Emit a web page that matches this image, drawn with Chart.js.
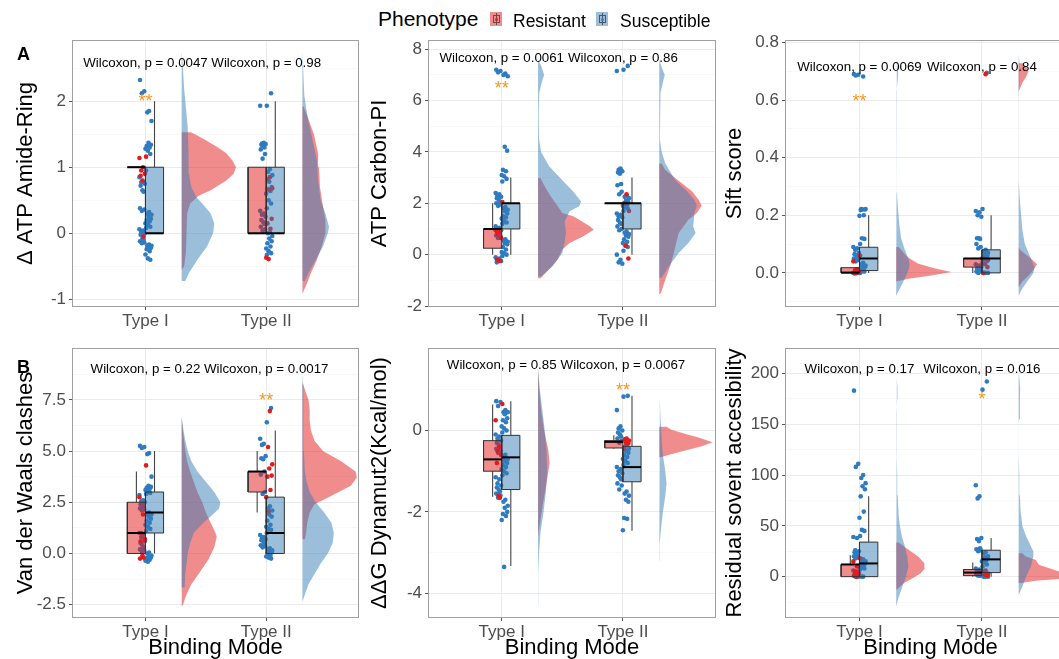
<!DOCTYPE html>
<html>
<head>
<meta charset="utf-8">
<script src="https://cdn.jsdelivr.net/npm/chart.js@4.4.1/dist/chart.umd.min.js"></script>
<style>
  body { margin: 0; width: 1059px; height: 659px; overflow: hidden; background: #fff; position: relative;
         font-family: "Liberation Sans", Arial, sans-serif; }
  canvas { position: absolute; }
  .lg { position: absolute; line-height: 20px; color: #000; white-space: nowrap; }
  .tag { position: absolute; font-weight: bold; font-size: 18px; line-height: 20px; left: 17px; }
  .key { position: absolute; top: 12px; width: 12px; height: 14px; }
  .key::before { content: ''; position: absolute; left: 5.5px; top: 1px; width: 1px; height: 12px; background: #555; }
  .key i { position: absolute; left: 2.5px; top: 3px; width: 5px; height: 6px; border: 1px solid #555; }
  .key b { position: absolute; left: 4.5px; top: 5.5px; width: 3px; height: 3px; border-radius: 50%; }
</style>
</head>
<body>
<canvas id="p1" width="362" height="300" style="left:0px;top:30px"></canvas>
<canvas id="p2" width="357" height="300" style="left:362px;top:30px"></canvas>
<canvas id="p3" width="360" height="300" style="left:719px;top:30px"></canvas>
<canvas id="p4" width="362" height="326" style="left:0px;top:335px"></canvas>
<canvas id="p5" width="357" height="326" style="left:362px;top:335px"></canvas>
<canvas id="p6" width="360" height="326" style="left:719px;top:335px"></canvas>

<div class="lg" style="left:378px;top:9px;font-size:21px">Phenotype</div>
<div class="key" style="left:490px;background:rgba(228,26,28,0.5)"><i></i><b style="background:#E41A1C"></b></div>
<div class="lg" style="left:513px;top:11px;font-size:17.5px">Resistant</div>
<div class="key" style="left:596px;background:rgba(55,126,184,0.5)"><i></i><b style="background:#377EB8"></b></div>
<div class="lg" style="left:620px;top:11px;font-size:17.5px">Susceptible</div>
<div class="tag" style="top:44px">A</div>
<div class="tag" style="top:357px">B</div>

<script>
const categories = ['Type I', 'Type II'];

// ---- Δ ATP Amide-Ring
const amideTicks = [-1, 0, 1, 2];
const amideTickLabels = ['-1', '0', '1', '2'];
const amideRange = [-1.1, 2.91];
const amidePtsR = [[1.16, 1.14, 1.0, 0.95, 0.9, 0.87, 0.8, -0.05], [0.85, 0.82, 0.68, 0.66, 0.22, 0.15, 0.07, -0.37, -0.39]];
const amidePtsS = [
  [2.32, 2.15, 2.12, 1.85, 1.83, 1.7, 1.37, 1.34, 1.32, 1.3, 1.28, 1.25, 1.2, 0.95, 0.85, 0.78, 0.77, 0.75, 0.72, 0.65, 0.63, 0.38, 0.36, 0.34, 0.32, 0.3, 0.28, 0.26, 0.22, 0.2, 0.18, 0.15, 0.13, 0.1, 0.08, 0.06, 0.04, 0.02, 0.0, -0.02, -0.08, -0.1, -0.12, -0.14, -0.15, -0.17, -0.18, -0.19, -0.2, -0.22, -0.24, -0.27, -0.32, -0.38, -0.4],
  [2.12, 1.93, 1.93, 1.37, 1.36, 1.35, 1.34, 1.32, 1.3, 1.27, 1.2, 1.13, 0.97, 0.93, 0.88, 0.78, 0.7, 0.67, 0.64, 0.6, 0.5, 0.45, 0.38, 0.34, 0.3, 0.28, 0.25, 0.2, 0.17, 0.14, 0.1, 0.06, 0.04, 0.02, 0.0, -0.04, -0.08, -0.12, -0.15, -0.2, -0.23, -0.27, -0.3, -0.33]
];
const amideBoxR = [[1, 1, 1, 1, 1], [0, 0, 0, 1, 1]];
const amideBoxS = [[0, 0, 0, 1, 2], [0, 0, 0, 1, 2]];
const amideVioR = [
  [[-0.55, 0], [-0.5, 0.02], [-0.3, 0.035], [0, 0.04], [0.3, 0.045], [0.45, 0.07], [0.57, 0.14], [0.65, 0.24], [0.8, 0.37], [0.9, 0.43], [1.0, 0.45], [1.1, 0.42], [1.21, 0.37], [1.3, 0.3], [1.41, 0.2], [1.5, 0.11], [1.53, 0.075]],
  [[-0.92, 0], [-0.85, 0.015], [-0.75, 0.04], [-0.6, 0.07], [-0.4, 0.12], [-0.2, 0.16], [0, 0.19], [0.2, 0.19], [0.4, 0.17], [0.7, 0.145], [1.0, 0.137], [1.2, 0.13], [1.5, 0.095], [1.7, 0.055], [1.92, 0.01]]
];
const amideVioS = [
  [[-0.72, 0.03], [-0.6, 0.06], [-0.4, 0.13], [-0.2, 0.21], [0, 0.26], [0.15, 0.27], [0.3, 0.24], [0.45, 0.17], [0.55, 0.12], [0.7, 0.08], [0.9, 0.06], [1.2, 0.057], [1.6, 0.05], [1.9, 0.035], [2.2, 0.02], [2.5, 0.01], [2.75, 0]],
  [[-0.72, 0.02], [-0.6, 0.05], [-0.4, 0.11], [-0.2, 0.17], [0, 0.21], [0.1, 0.22], [0.3, 0.19], [0.5, 0.15], [0.8, 0.13], [1.1, 0.12], [1.4, 0.085], [1.7, 0.05], [1.9, 0.03], [2.1, 0.015], [2.4, 0.008], [2.75, 0]]
];
const amideStats = ['Wilcoxon, p = 0.0047', 'Wilcoxon, p = 0.98'];
const amideStars = ['**', ''];

// ---- ATP Carbon-PI
const carbonTicks = [-2, 0, 2, 4, 6, 8];
const carbonTickLabels = ['-2', '0', '2', '4', '6', '8'];
const carbonRange = [-2, 8.32];
const carbonPtsR = [[2.05, 0.95, 0.9, 0.8, 0.65, -0.2, -0.22, -0.25], [2.35, 2.0, 1.7, 0.35, -0.15]];
const carbonPtsS = [
  [7.2, 7.15, 7.1, 7.05, 7.0, 6.95, 4.2, 4.05, 3.3, 3.25, 3.1, 3.05, 2.95, 2.85, 2.4, 2.35, 2.3, 2.25, 2.2, 2.15, 2.05, 2.0, 1.95, 1.9, 1.85, 1.8, 1.75, 1.7, 1.6, 1.5, 1.45, 1.4, 1.3, 1.25, 1.2, 1.1, 1.05, 1.0, 0.95, 0.9, 0.85, 0.8, 0.75, 0.7, 0.65, 0.6, 0.55, 0.5, 0.45, 0.4, 0.3, 0.2, 0.1, 0.05, 0.0, -0.05, -0.1, -0.15, -0.2, -0.25, -0.3],
  [7.35, 7.2, 7.15, 3.35, 3.3, 3.25, 3.2, 3.15, 2.75, 2.7, 2.45, 2.35, 2.3, 2.25, 2.2, 2.1, 2.05, 2.0, 1.95, 1.9, 1.85, 1.8, 1.7, 1.6, 1.55, 1.5, 1.45, 1.35, 1.25, 1.2, 1.1, 1.0, 0.95, 0.9, 0.85, 0.8, 0.75, 0.7, 0.6, 0.5, 0.45, 0.35, 0.3, 0.15, 0.0, -0.2, -0.3, -0.35]
];
const carbonBoxR = [[0, 0.25, 1, 1, 2], [2, 2, 2, 2, 2]];
const carbonBoxS = [[0, 1, 2, 2, 3], [0, 1, 2, 2, 3]];
const carbonVioR = [
  [[-0.92, 0.02], [-0.58, 0.09], [-0.2, 0.16], [0.2, 0.2], [0.45, 0.26], [0.71, 0.37], [0.97, 0.46], [1.1, 0.43], [1.3, 0.36], [1.5, 0.29], [1.62, 0.2], [1.9, 0.16], [2.3, 0.1], [2.7, 0.05], [2.98, 0.02]],
  [[-1.55, 0], [-1.49, 0.014], [-0.97, 0.05], [-0.45, 0.09], [0.06, 0.12], [0.84, 0.16], [1.36, 0.24], [1.62, 0.31], [1.9, 0.35], [2.14, 0.325], [2.47, 0.27], [2.92, 0.15], [3.3, 0.05], [3.55, 0.02]]
];
const carbonVioS = [
  [[-0.85, 0.025], [-0.45, 0.12], [0.06, 0.2], [0.5, 0.22], [0.84, 0.23], [1.3, 0.22], [1.69, 0.26], [1.88, 0.34], [2.07, 0.355], [2.46, 0.29], [2.9, 0.2], [3.45, 0.09], [4.0, 0.025], [4.5, 0.008], [5.5, 0.005], [6.3, 0.01], [6.7, 0.03], [7.0, 0.05], [7.3, 0.03], [7.6, 0]],
  [[-0.9, 0.02], [-0.45, 0.08], [0.06, 0.16], [0.45, 0.24], [0.84, 0.3], [1.1, 0.28], [1.62, 0.29], [1.9, 0.31], [2.14, 0.29], [2.47, 0.23], [2.92, 0.13], [3.55, 0.05], [4.0, 0.02], [4.5, 0.005], [6.3, 0.01], [6.7, 0.03], [7.0, 0.045], [7.3, 0.02], [7.6, 0]]
];
const carbonStats = ['Wilcoxon, p = 0.0061', 'Wilcoxon, p = 0.86'];
const carbonStars = ['**', ''];

// ---- Sift score
const siftTicks = [0, 0.2, 0.4, 0.6, 0.8];
const siftTickLabels = ['0.0', '0.2', '0.4', '0.6', '0.8'];
const siftRange = [-0.115, 0.805];
const siftPtsR = [[0.06, 0.04, 0.012, 0.01, 0.005, 0.0, 0.0], [0.69, 0.05, 0.045, 0.03, 0.02, 0.0]];
const siftPtsS = [
  [0.69, 0.688, 0.685, 0.682, 0.222, 0.222, 0.22, 0.22, 0.218, 0.2, 0.198, 0.12, 0.118, 0.1, 0.09, 0.085, 0.08, 0.07, 0.065, 0.06, 0.055, 0.05, 0.045, 0.04, 0.035, 0.03, 0.025, 0.02, 0.02, 0.015, 0.01, 0.01, 0.005, 0.005, 0.0, 0.0, 0.0, 0.0, 0.0, -0.002],
  [0.695, 0.222, 0.215, 0.21, 0.2, 0.195, 0.12, 0.12, 0.118, 0.1, 0.09, 0.085, 0.08, 0.075, 0.07, 0.065, 0.06, 0.055, 0.05, 0.05, 0.045, 0.04, 0.035, 0.03, 0.025, 0.02, 0.02, 0.015, 0.01, 0.01, 0.005, 0.005, 0.0, 0.0, 0.0, 0.0]
];
const siftBoxR = [[0, 0, 0.001, 0.018, 0.018], [0, 0.02, 0.05, 0.05, 0.05]];
const siftBoxS = [[0, 0.008, 0.05, 0.089, 0.2], [0, 0, 0.05, 0.08, 0.2]];
const siftVioR = [
  [[-0.03, 0], [-0.02, 0.1], [-0.008, 0.3], [0.003, 0.45], [0.015, 0.32], [0.032, 0.18], [0.055, 0.09], [0.08, 0.04], [0.09, 0.02]],
  [[-0.05, 0], [-0.03, 0.03], [-0.01, 0.08], [0.01, 0.12], [0.03, 0.15], [0.05, 0.1], [0.08, 0.01], [0.09, 0.0005], [0.63, 0.0005], [0.66, 0.03], [0.68, 0.06], [0.7, 0.08], [0.715, 0.06], [0.728, 0.03]]
];
const siftVioS = [
  [[-0.08, 0], [-0.07, 0.01], [-0.05, 0.035], [-0.02, 0.07], [0.01, 0.1], [0.03, 0.11], [0.05, 0.1], [0.08, 0.07], [0.12, 0.04], [0.17, 0.025], [0.22, 0.015], [0.28, 0.005], [0.32, 0.0005], [0.6, 0.0005], [0.63, 0.004], [0.67, 0.012], [0.69, 0.016], [0.71, 0.012], [0.74, 0.005], [0.76, 0]],
  [[-0.08, 0], [-0.06, 0.02], [-0.03, 0.07], [0.0, 0.12], [0.02, 0.13], [0.05, 0.1], [0.1, 0.05], [0.15, 0.03], [0.2, 0.02], [0.25, 0.01], [0.32, 0.0005], [0.6, 0.0005], [0.65, 0.004], [0.69, 0.008], [0.73, 0.004], [0.76, 0]]
];
const siftStats = ['Wilcoxon, p = 0.0069', 'Wilcoxon, p = 0.84'];
const siftStars = ['**', ''];

// ---- Van der Waals clashes
const vdwTicks = [-2.5, 0, 2.5, 5, 7.5];
const vdwTickLabels = ['-2.5', '0.0', '2.5', '5.0', '7.5'];
const vdwRange = [-3.1, 9.98];
const vdwPtsR = [[4.3, 2.75, 1.9, 1.0, 0.7, 0.6, -0.1, -0.2, -0.25], [6.95, 5.2, 4.35, 4.15, 3.8, 3.75, 3.1, 2.75, 2.05]];
const vdwPtsS = [
  [5.25, 5.2, 5.15, 4.9, 4.85, 3.75, 3.3, 3.25, 3.2, 3.15, 3.1, 3.0, 2.95, 2.9, 2.85, 2.6, 2.55, 2.5, 2.4, 2.35, 2.3, 2.2, 2.15, 2.1, 2.0, 1.95, 1.9, 1.8, 1.7, 1.6, 1.5, 1.4, 1.3, 1.2, 1.1, 1.0, 0.9, 0.8, 0.6, 0.5, 0.4, 0.3, 0.2, 0.15, 0.1, 0.05, 0.0, -0.1, -0.15, -0.2, -0.25, -0.3, -0.35, -0.4],
  [7.1, 6.4, 5.6, 5.35, 5.3, 4.75, 4.65, 4.6, 4.0, 3.85, 3.0, 2.9, 2.3, 2.2, 2.1, 1.9, 1.8, 1.6, 1.4, 1.3, 1.2, 1.15, 1.0, 0.9, 0.8, 0.75, 0.7, 0.65, 0.6, 0.5, 0.4, 0.35, 0.3, 0.25, 0.2, 0.15, 0.1, 0.05, 0.0, -0.1, -0.15, -0.2, -0.25]
];
const vdwBoxR = [[0, 0, 1, 2.5, 4], [2, 3, 4, 4, 5]];
const vdwBoxS = [[0, 1, 2, 3, 5], [0, 0, 1, 2.75, 6]];
const vdwVioR = [
  [[-2.6, 0], [-2.5, 0.01], [-2.0, 0.04], [-1.5, 0.08], [-1.0, 0.14], [-0.3, 0.22], [0.3, 0.27], [0.8, 0.29], [1.0, 0.28], [1.5, 0.24], [2.0, 0.2], [2.5, 0.17], [3.0, 0.13], [3.5, 0.1], [4.0, 0.07], [4.5, 0.045], [5.0, 0.03], [5.5, 0.02], [6.0, 0.01], [6.6, 0]],
  [[0.7, 0.02], [1.0, 0.03], [1.5, 0.04], [2.0, 0.06], [2.4, 0.1], [2.7, 0.2], [3.0, 0.3], [3.3, 0.4], [3.7, 0.45], [4.0, 0.44], [4.5, 0.32], [5.0, 0.17], [5.5, 0.1], [6.0, 0.07], [6.5, 0.06], [7.0, 0.06], [7.5, 0.05], [8.0, 0.02], [8.3, 0.005]]
];
const vdwVioS = [
  [[-1.65, 0.025], [-1.0, 0.03], [-0.5, 0.04], [0, 0.05], [0.5, 0.07], [1.0, 0.1], [1.5, 0.18], [1.8, 0.24], [2.2, 0.31], [2.5, 0.32], [3.0, 0.27], [3.5, 0.2], [4.0, 0.13], [4.5, 0.08], [5.0, 0.05], [5.5, 0.03], [6.0, 0.015], [6.7, 0]],
  [[-2.35, 0], [-2.0, 0.02], [-1.5, 0.05], [-1.0, 0.1], [-0.5, 0.15], [0, 0.21], [0.5, 0.25], [1.0, 0.26], [1.5, 0.24], [2.0, 0.18], [2.5, 0.11], [3.0, 0.06], [3.5, 0.035], [4.0, 0.02], [5.0, 0.012], [6.0, 0.01], [7.0, 0.008], [8.0, 0.005], [8.8, 0]]
];
const vdwStats = ['Wilcoxon, p = 0.22', 'Wilcoxon, p = 0.0017'];
const vdwStars = ['', '**'];

// ---- ΔΔG Dynamut2
const ddgTicks = [-4, -2, 0];
const ddgTickLabels = ['-4', '-2', '0'];
const ddgRange = [-4.58, 2.0];
const ddgPtsR = [[0.65, 0.25, -0.4, -0.5, -0.6, -0.8, -1.6, -1.65], [-0.2, -0.22, -0.25, -0.3, -0.32, -0.45]];
const ddgPtsS = [
  [0.72, 0.7, 0.6, 0.5, 0.45, 0.45, 0.4, 0.3, 0.25, 0.2, 0.1, 0.05, 0.0, -0.05, -0.1, -0.15, -0.2, -0.25, -0.3, -0.35, -0.4, -0.45, -0.5, -0.55, -0.6, -0.65, -0.7, -0.75, -0.8, -0.85, -0.9, -0.95, -1.0, -1.05, -1.1, -1.15, -1.2, -1.3, -1.35, -1.4, -1.45, -1.5, -1.55, -1.6, -1.65, -1.7, -1.75, -1.85, -1.9, -2.0, -2.05, -2.1, -2.2, -3.35],
  [0.85, 0.83, 0.5, 0.1, 0.05, 0.0, -0.05, -0.1, -0.15, -0.2, -0.25, -0.3, -0.35, -0.4, -0.45, -0.5, -0.55, -0.6, -0.65, -0.7, -0.75, -0.8, -0.85, -0.9, -0.95, -1.0, -1.05, -1.1, -1.15, -1.2, -1.3, -1.35, -1.45, -1.5, -1.55, -1.6, -1.7, -1.75, -2.15, -2.17, -2.45]
];
const ddgBoxR = [[-1.63, -1.0, -0.71, -0.25, 0.64], [-0.45, -0.43, -0.28, -0.25, -0.12]];
const ddgBoxS = [[-3.33, -1.45, -0.66, -0.12, 0.72], [-2.46, -1.26, -0.9, -0.39, 0.85]];
const ddgVioR = [
  [[-2.6, 0], [-2.2, 0.02], [-1.8, 0.04], [-1.2, 0.075], [-0.8, 0.095], [-0.5, 0.085], [0, 0.05], [0.5, 0.025], [1.0, 0.01], [1.5, 0]],
  [[-0.65, 0.02], [-0.59, 0.09], [-0.51, 0.19], [-0.39, 0.35], [-0.29, 0.44], [-0.18, 0.33], [-0.06, 0.19], [0.02, 0.1], [0.09, 0.06]]
];
const ddgVioS = [
  [[-4.3, 0], [-3.5, 0.003], [-3.0, 0.008], [-2.5, 0.02], [-2.0, 0.045], [-1.5, 0.065], [-1.0, 0.075], [-0.5, 0.07], [0, 0.055], [0.5, 0.035], [1.0, 0.015], [1.5, 0]],
  [[-3.2, 0], [-2.8, 0.005], [-2.4, 0.015], [-2.0, 0.03], [-1.6, 0.05], [-1.3, 0.06], [-1.0, 0.05], [-0.6, 0.03], [-0.2, 0.02], [0.3, 0.01], [0.8, 0.005], [1.45, 0]]
];
const ddgStats = ['Wilcoxon, p = 0.85', 'Wilcoxon, p = 0.0067'];
const ddgStars = ['', '**'];

// ---- Residual solvent accessibility
const rsaTicks = [0, 50, 100, 150, 200];
const rsaTickLabels = ['0', '50', '100', '150', '200'];
const rsaRange = [-39.7, 224];
const rsaPtsR = [[18, 15, 10, 5, 3, 1, 0], [6, 5, 3, 2, 1]];
const rsaPtsS = [
  [183, 111, 108, 100, 97, 92, 89, 86, 79, 64, 58, 46, 45, 40, 39, 38, 26, 25, 24, 22, 21, 20, 19, 18, 17, 16, 15, 14, 13, 12, 11, 10, 9, 8, 7, 6, 5, 4, 3, 2, 2, 1, 1, 0, 0, 0, 0],
  [192, 184, 90, 79, 77, 38, 37, 35, 28, 27, 26, 25, 24, 23, 20, 19, 18, 17, 16, 15, 14, 12, 10, 8, 7, 6, 5, 4, 3, 2, 2, 1, 1, 0, 0, 0]
];
const rsaBoxR = [[0, 0, 12, 12, 21], [0, 1, 4, 7, 14]];
const rsaBoxS = [[0, 0, 13, 34, 79], [0, 4, 17, 26, 38]];
const rsaVioR = [
  [[-13, 0], [-11.6, 0.015], [-6.6, 0.06], [-1.7, 0.13], [3.3, 0.2], [8.3, 0.235], [13.2, 0.23], [19.8, 0.18], [26.4, 0.1], [33.7, 0.02]],
  [[-6.5, 0], [-6, 0.03], [-4, 0.14], [-1.7, 0.38], [1.7, 0.4], [5, 0.33], [8.3, 0.25], [11.6, 0.165], [16.5, 0.14], [20, 0.055], [23, 0.03]]
];
const rsaVioS = [
  [[-29, 0], [-20, 0.02], [-10, 0.05], [0, 0.08], [10, 0.1], [20, 0.09], [30, 0.07], [40, 0.045], [50, 0.03], [60, 0.02], [80, 0.012], [100, 0.008], [120, 0.004], [140, 0.001], [145, 0.0005], [155, 0.0005], [160, 0.004], [175, 0.008], [185, 0.01], [195, 0.005], [200, 0]],
  [[-18, 0], [-10, 0.03], [0, 0.06], [10, 0.1], [20, 0.12], [25, 0.12], [30, 0.1], [40, 0.06], [50, 0.03], [65, 0.015], [80, 0.01], [100, 0.005], [120, 0.001], [125, 0.0005], [150, 0.0005], [155, 0.004], [175, 0.01], [185, 0.012], [195, 0.006], [200, 0]]
];
const rsaStats = ['Wilcoxon, p = 0.17', 'Wilcoxon, p = 0.016'];
const rsaStars = ['', '*'];

// ---- styling
const FONT = '"Liberation Sans", Arial, sans-serif';
const redFill = 'rgba(228,26,28,0.5)';
const blueFill = 'rgba(55,126,184,0.5)';
const redPoint = '#E41A1C';
const bluePoint = '#2F7BBF';
const boxWidth = 0.15, dodge = 0.075, violinShift = 0.3;
const jitter = [-0.045, 0.02, -0.01, 0.04, -0.03, 0.005, 0.03, -0.05, 0.015, -0.02, 0.05, -0.035, 0.025, -0.005, 0.045, -0.04, 0.01, -0.025, 0.035, -0.015, 0.0];

const panels = [
  { id: 'p1', yw: 73, xh: 24, padTop: 11, padRight: 2, titlePad: 12.8, xTitle: false, title: 'Δ ATP Amide-Ring',
    ticks: amideTicks, labels: amideTickLabels, range: amideRange, ptsR: amidePtsR, ptsS: amidePtsS,
    boxR: amideBoxR, boxS: amideBoxS, vioR: amideVioR, vioS: amideVioS, stats: amideStats, stars: amideStars, statY: 2.57, starY: 2.06 },
  { id: 'p2', yw: 67, xh: 24, padTop: 11, padRight: 3, titlePad: 4.8, xTitle: false, title: 'ATP Carbon-PI',
    ticks: carbonTicks, labels: carbonTickLabels, range: carbonRange, ptsR: carbonPtsR, ptsS: carbonPtsS,
    boxR: carbonBoxR, boxS: carbonBoxS, vioR: carbonVioR, vioS: carbonVioS, stats: carbonStats, stars: carbonStars, statY: 7.63, starY: 6.65 },
  { id: 'p3', yw: 67, xh: 24, padTop: 11, padRight: 4, titlePad: 2.8, xTitle: false, title: 'Sift score',
    ticks: siftTicks, labels: siftTickLabels, range: siftRange, ptsR: siftPtsR, ptsS: siftPtsS,
    boxR: siftBoxR, boxS: siftBoxS, vioR: siftVioR, vioS: siftVioS, stats: siftStats, stars: siftStars, statY: 0.714, starY: 0.61 },
  { id: 'p4', yw: 73, xh: 44, padTop: 14, padRight: 2, titlePad: 12.8, xTitle: true, title: 'Van der Waals clashes',
    ticks: vdwTicks, labels: vdwTickLabels, range: vdwRange, ptsR: vdwPtsR, ptsS: vdwPtsS,
    boxR: vdwBoxR, boxS: vdwBoxS, vioR: vdwVioR, vioS: vdwVioS, stats: vdwStats, stars: vdwStars, statY: 8.97, starY: 7.7 },
  { id: 'p5', yw: 67, xh: 44, padTop: 14, padRight: 3, titlePad: 4.8, xTitle: true, title: 'ΔΔG Dynamut2(Kcal/mol)',
    ticks: ddgTicks, labels: ddgTickLabels, range: ddgRange, ptsR: ddgPtsR, ptsS: ddgPtsS,
    boxR: ddgBoxR, boxS: ddgBoxS, vioR: ddgVioR, vioS: ddgVioS, stats: ddgStats, stars: ddgStars, statY: 1.61, starY: 1.09 },
  { id: 'p6', yw: 67, xh: 44, padTop: 14, padRight: 4, titlePad: 2.8, xTitle: true, title: 'Residual sovent accesibility',
    ticks: rsaTicks, labels: rsaTickLabels, range: rsaRange, ptsR: rsaPtsR, ptsS: rsaPtsS,
    boxR: rsaBoxR, boxS: rsaBoxS, vioR: rsaVioR, vioS: rsaVioS, stats: rsaStats, stars: rsaStars, statY: 204, starY: 179 }
];

function seg(pts, color, width) {
  return { data: pts, showLine: true, borderColor: color, borderWidth: width, pointRadius: 0, fill: false, borderCapStyle: 'butt' };
}

function violin(prof, base, color) {
  const pts = [{ x: base, y: prof[0][0] }];
  prof.forEach(p => pts.push({ x: base + p[1], y: p[0] }));
  pts.push({ x: base, y: prof[prof.length - 1][0] });
  pts.push({ x: base, y: prof[0][0] });
  return { data: pts, showLine: true, fill: 'shape', backgroundColor: color, borderColor: 'rgba(0,0,0,0)', borderWidth: 0, pointRadius: 0 };
}

function dots(vals, x, color, shift) {
  return {
    data: vals.map((v, i) => ({ x: x + jitter[(i * 2 + shift) % jitter.length], y: v })),
    backgroundColor: color, borderWidth: 0, pointRadius: 2.3
  };
}

// dataset 0 is drawn on top, so the list runs from front to back
function buildDatasets(p) {
  const medians = [], boxes = [], whiskers = [], points = [], violins = [];
  categories.forEach((c, i) => {
    const x = i + 1;
    [[p.boxR[i], -dodge, redFill], [p.boxS[i], dodge, blueFill]].forEach(([b, off, col]) => {
      const xc = x + off, x0 = xc - boxWidth / 2, x1 = xc + boxWidth / 2;
      const [lo, q1, med, q3, hi] = b;
      medians.push(seg([{ x: x0, y: med }, { x: x1, y: med }], '#000', 2));
      boxes.push({ data: [{ x: x0, y: q1 }, { x: x1, y: q1 }, { x: x1, y: q3 }, { x: x0, y: q3 }, { x: x0, y: q1 }],
        showLine: true, fill: 'shape', backgroundColor: col, borderColor: '#333', borderWidth: 1, pointRadius: 0 });
      whiskers.push(seg([{ x: xc, y: q3 }, { x: xc, y: hi }], '#444', 1.1));
      whiskers.push(seg([{ x: xc, y: lo }, { x: xc, y: q1 }], '#444', 1.1));
    });
    points.push(dots(p.ptsR[i], x, redPoint, 5 + i));
    points.push(dots(p.ptsS[i], x, bluePoint, i * 3));
    violins.push(violin(p.vioS[i], x + violinShift, blueFill));
    violins.push(violin(p.vioR[i], x + violinShift, redFill));
  });
  return [...medians, ...boxes, ...whiskers, ...points, ...violins];
}

function overlay(p) {
  return {
    id: 'overlay',
    afterDatasetsDraw(chart) {
      const { ctx, chartArea: a, scales: { x, y } } = chart;
      ctx.save();
      ctx.strokeStyle = '#A0A0A0';
      ctx.lineWidth = 1;
      ctx.strokeRect(a.left - 0.5, a.top - 0.5, a.right - a.left + 1, a.bottom - a.top + 1);
      ctx.fillStyle = '#000';
      ctx.font = '13.3px ' + FONT;
      ctx.textAlign = 'center';
      ctx.textBaseline = 'middle';
      p.stats.forEach((t, i) => ctx.fillText(t, x.getPixelForValue(i + 1), y.getPixelForValue(p.statY)));
      ctx.fillStyle = '#F8961E';
      ctx.font = '18px ' + FONT;
      ctx.textBaseline = 'alphabetic';
      p.stars.forEach((t, i) => { if (t) ctx.fillText(t, x.getPixelForValue(i + 1), y.getPixelForValue(p.starY) + 10); });
      ctx.restore();
    }
  };
}

panels.forEach(p => {
  const step = p.ticks[1] - p.ticks[0];
  const minors = [];
  for (let v = p.ticks[0] - step / 2; v <= p.range[1]; v += step) if (v >= p.range[0]) minors.push(v);
  const allTicks = [...p.ticks, ...minors].sort((a, b) => a - b);
  const isMajor = v => p.ticks.some(t => Math.abs(t - v) < 1e-9);

  new Chart(document.getElementById(p.id), {
    type: 'scatter',
    data: { datasets: buildDatasets(p) },
    options: {
      responsive: false,
      devicePixelRatio: 1,
      animation: false,
      events: [],
      layout: { padding: { top: p.padTop, right: p.padRight, left: 0, bottom: 0 } },
      plugins: { legend: { display: false }, tooltip: { enabled: false } },
      scales: {
        x: {
          type: 'linear', min: 0.4, max: 2.76, bounds: 'data',
          afterBuildTicks: s => { s.ticks = categories.map((c, i) => ({ value: i + 1 })); },
          afterFit: s => { s.height = p.xh; s.paddingLeft = 0; s.paddingRight = 0; },
          ticks: { callback: v => categories[Math.round(v) - 1], autoSkip: false, maxRotation: 0,
                   color: '#4D4D4D', font: { size: 17, family: FONT, lineHeight: 1 }, padding: 3 },
          grid: { color: '#EBEBEB', lineWidth: 1, tickColor: '#555', tickLength: 4 },
          border: { display: false },
          title: { display: p.xTitle, text: 'Binding Mode', color: '#000', font: { size: 22, family: FONT }, padding: { top: 0, bottom: 0 } }
        },
        y: {
          type: 'linear', min: p.range[0], max: p.range[1], bounds: 'data',
          afterBuildTicks: s => { s.ticks = allTicks.map(v => ({ value: v })); },
          afterFit: s => { s.width = p.yw; s.paddingTop = 0; s.paddingBottom = 0; },
          ticks: { callback: v => isMajor(v) ? p.labels[p.ticks.findIndex(t => Math.abs(t - v) < 1e-9)] : '',
                   autoSkip: false, color: '#4D4D4D', font: { size: 17, family: FONT }, padding: 3 },
          grid: {
            color: c => isMajor(c.tick.value) ? '#EBEBEB' : '#F5F5F5',
            lineWidth: c => isMajor(c.tick.value) ? 1 : 0.7,
            tickColor: c => isMajor(c.tick.value) ? '#555' : 'rgba(0,0,0,0)',
            tickLength: 4
          },
          border: { display: false },
          title: { display: true, text: p.title, color: '#000', font: { size: 22, family: FONT }, padding: { top: p.titlePad, bottom: 0 } }
        }
      }
    },
    plugins: [overlay(p)]
  });
});
</script>
</body>
</html>
